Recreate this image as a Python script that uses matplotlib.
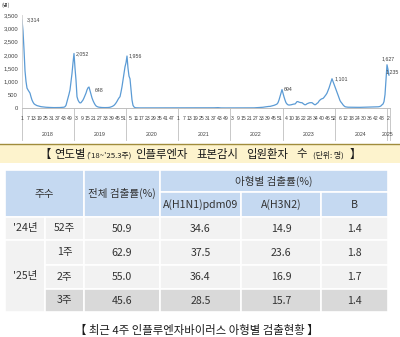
import matplotlib
matplotlib.use('Agg')
import matplotlib.pyplot as plt
from matplotlib.patches import Rectangle
import matplotlib.transforms as mtransforms

plt.rcParams['font.family'] = ['Noto Sans CJK KR', 'DejaVu Sans']

# ---------------- data ----------------
years = ['2018', '2019', '2020', '2021', '2022', '2023', '2024', '2025']
weeks_per_year = [52, 52, 52, 52, 53, 52, 52, 3]

y2018 = [3314, 2900, 2200, 1400, 1000, 750, 680, 620, 560, 420, 300, 220, 160, 130, 110, 90,
         80, 70, 60, 50, 45, 40, 35, 30, 28, 25, 22, 20, 20, 18, 18, 16, 15, 15, 15, 14,
         15, 16, 18, 20, 22, 25, 30, 50, 100, 240, 380, 520, 680, 1000, 1300, 1700]
y2019 = [2052, 1500, 1050, 425, 300, 230, 190, 200, 250, 300, 380, 470, 560, 680, 760, 790,
         648, 500, 380, 280, 200, 130, 80, 55, 40, 30, 25, 20, 18, 16, 15, 15,
         15, 16, 18, 22, 28, 40, 55, 75, 100, 140, 190, 250, 320, 380, 425, 600,
         800, 1050, 1300, 1550]
y2020 = [1700, 1956, 1500, 1200, 1100, 700, 300, 100, 40, 15, 8, 6, 5, 5, 4, 4,
         4, 3, 3, 3, 3, 3, 3, 3, 3, 3, 3, 3, 3, 3, 3, 3,
         3, 3, 3, 3, 3, 3, 3, 3, 3, 3, 3, 3, 3, 3, 3, 3,
         3, 3, 3, 3]
y2021 = [3, 3, 3, 3, 3, 3, 3, 3, 3, 3, 3, 3, 3, 3, 3, 3,
         3, 3, 3, 3, 3, 3, 3, 3, 3, 3, 3, 3, 3, 3, 3, 3,
         3, 3, 3, 5, 8, 10, 14, 16, 14, 10, 6, 4, 3, 3, 3, 3,
         3, 3, 3, 3]
y2022 = [3, 3, 3, 3, 3, 3, 3, 3, 3, 3, 3, 3, 3, 3, 3, 3,
         3, 3, 3, 3, 4, 4, 5, 5, 6, 8, 10, 12, 15, 18, 20, 22,
         25, 28, 32, 40, 45, 50, 55, 60, 60, 70, 80, 90, 100, 115, 130, 150,
         200, 300, 425, 560, 694]
y2023 = [550, 420, 300, 200, 150, 120, 110, 115, 120, 130, 140, 150, 150, 190, 240, 240,
         220, 210, 200, 200, 170, 140, 120, 130, 160, 175, 190, 200, 200, 200, 170, 140,
         120, 140, 175, 200, 260, 300, 330, 350, 360, 400, 450, 500, 560, 650, 750, 870,
         1000, 1101, 1000, 900]
y2024 = [800, 700, 600, 490, 380, 280, 220, 175, 120, 80, 50, 40, 35, 30, 30, 28,
         28, 27, 27, 26, 26, 26, 25, 25, 25, 25, 26, 26, 27, 28, 28, 30,
         30, 30, 32, 32, 33, 34, 35, 36, 38, 40, 42, 45, 50, 60, 80, 120,
         150, 240, 500, 1050]
y2025 = [1627, 1450, 1235]

yearly_values = [y2018, y2019, y2020, y2021, y2022, y2023, y2024, y2025]

# points carrying a data label: (year, week)
label_points = [('2018', 1), ('2019', 1), ('2019', 17), ('2020', 2),
                ('2022', 53), ('2023', 50), ('2025', 1), ('2025', 3)]

y_ticks = [0, 500, 1000, 1500, 2000, 2500, 3000, 3500]
y_unit = '(명)'

chart_title_parts = ['【', '연도별', "('18~'25.3주)", '인플루엔자', '표본감시', '입원환자', '수', '(단위: 명)', '】']

# table
header_week = '주수'
header_total = '전체 검출률(%)'
header_subtype = '아형별 검출률(%)'
subtypes = ['A(H1N1)pdm09', 'A(H3N2)', 'B']
row_years = ["'24년", "'25년"]
row_year_span = [1, 3]
row_weeks = ['52주', '1주', '2주', '3주']
total_rate = [50.9, 62.9, 55.0, 45.6]
h1n1_rate = [34.6, 37.5, 36.4, 28.5]
h3n2_rate = [14.9, 23.6, 16.9, 15.7]
b_rate = [1.4, 1.8, 1.7, 1.4]
table_caption = '【 최근 4주 인플루엔자바이러스 아형별 검출현황 】'

# ---------------- figure ----------------
W, H = 400, 337
fig = plt.figure(figsize=(W / 100, H / 100), dpi=100)
fig.patch.set_facecolor('white')

# overlay axes in pixel coordinates
ov = fig.add_axes([0, 0, 1, 1])
ov.set_xlim(0, W)
ov.set_ylim(H, 0)
ov.axis('off')

# ---- line chart ----
series = []
week_numbers = []
for vals, n in zip(yearly_values, weeks_per_year):
    series.extend(vals)
    week_numbers.extend(range(1, n + 1))
idx = list(range(len(series)))

x_left_px, x_right_px = 21.5, 389.5
y_top_px, y_zero_px = 15, 108
ax = fig.add_axes([x_left_px / W, (H - y_zero_px) / H,
                   (x_right_px - x_left_px) / W, (y_zero_px - y_top_px) / H])
ax.set_facecolor('none')
ax.plot(idx, series, color='#5b9bd5', lw=0.9, solid_joinstyle='round')
ax.set_xlim(-0.5, len(series) - 0.5)
ax.set_ylim(0, 3500)
ax.set_yticks(y_ticks)
ax.set_yticklabels([f'{v:,}' for v in y_ticks], fontsize=4.2,
                   family=['Liberation Sans Narrow', 'Liberation Sans'], color='#404040')
ax.tick_params(axis='y', length=0, pad=2.5)
ax.set_xticks([])
for s in ['top', 'right']:
    ax.spines[s].set_visible(False)
ax.spines['left'].set_color('#d0d0d0')
ax.spines['left'].set_linewidth(0.6)
ax.spines['bottom'].set_color('#bfbfbf')
ax.spines['bottom'].set_linewidth(0.7)

trans = mtransforms.blended_transform_factory(ax.transData, ax.transAxes)
axes_h_px = y_zero_px - y_top_px

# week labels every 6 weeks
for i in range(0, len(series), 6):
    ax.text(i, -(119 - y_zero_px) / axes_h_px, str(week_numbers[i]), transform=trans,
            ha='center', va='center', fontsize=3.7,
            family=['Liberation Sans Narrow', 'Liberation Sans'], color='#404040')

# year separators and year labels
start = 0
bounds = [-0.5]
for n in weeks_per_year:
    start += n
    bounds.append(start - 0.5)
for b in bounds:
    ax.plot([b, b], [0, -(140 - y_zero_px) / axes_h_px], transform=trans,
            color='#bfbfbf', lw=0.6, clip_on=False)
for k, yr in enumerate(years):
    c = (bounds[k] + bounds[k + 1]) / 2
    ax.text(c, -(134 - y_zero_px) / axes_h_px, yr, transform=trans, ha='center',
            va='center', fontsize=3.8,
            family=['Liberation Sans Narrow', 'Liberation Sans'], color='#404040')

# unit label
ov.text(6, 5.5, y_unit, ha='center', va='center', fontsize=3.8, color='#404040')

# data labels
label_offsets = {('2018', 1): (5, 0, 'left'), ('2019', 1): (2, 0, 'left'),
                 ('2019', 17): (5, 0, 'left'), ('2020', 2): (2, 0, 'left'),
                 ('2022', 53): (2, 0, 'left'), ('2023', 50): (3, 0, 'left'),
                 ('2025', 1): (1, 6, 'center'), ('2025', 3): (-3, 3, 'left')}
for (yr, wk) in label_points:
    yi = years.index(yr)
    i = sum(weeks_per_year[:yi]) + wk - 1
    dx, dy, ha = label_offsets[(yr, wk)]
    ax.annotate(f'{series[i]:,}', xy=(i, series[i]), xytext=(dx * 0.72, dy * 0.72),
                textcoords='offset points', ha=ha, va='center', fontsize=3.8,
                family=['Liberation Sans Narrow', 'Liberation Sans'], color='#404040',
                annotation_clip=False)

# ---- yellow caption bar ----
ov.add_patch(Rectangle((0, 145), W, 18, facecolor='#fdf3cd', edgecolor='none'))
ov.plot([0, W], [144.3, 144.3], color='#a08c3c', lw=1.0)

title_sizes = [8.2, 8.2, 5.6, 8.2, 8.2, 8.2, 8.2, 5.6, 8.2]
title_gaps = [4, 0, 4, 8, 8, 8, 6, 6]   # pixel gaps after each piece
renderer = fig.canvas.get_renderer()
title_texts = []
widths = []
for txt, fs in zip(chart_title_parts, title_sizes):
    t = ov.text(0, 154.5 if fs > 6 else 155.8, txt, ha='left', va='center', fontsize=fs,
                color='#1a1a1a', fontweight='medium')
    title_texts.append(t)
    widths.append(t.get_window_extent(renderer).width)
total_w = sum(widths) + sum(title_gaps)
xpos = 200 - total_w / 2
for k, t in enumerate(title_texts):
    t.set_x(xpos)
    xpos += widths[k] + (title_gaps[k] if k < len(title_gaps) else 0)

# ---- table ----
blue = '#c5d9f1'
light = '#f2f2f2'
dark = '#d9d9d9'
edge = 'white'
tc = '#333333'
fs_t = 7.6


def cell(x0, y0, x1, y1, color):
    ov.add_patch(Rectangle((x0, y0), x1 - x0, y1 - y0, facecolor=color,
                           edgecolor=edge, lw=1.2))


col_edges = [5, 45, 84, 160, 241, 321, 388]
hdr_top, hdr_mid, hdr_bot = 170, 192, 217
row_edges = [217, 240, 265, 289, 312]

cell(col_edges[0], hdr_top, col_edges[2], hdr_bot, blue)
ov.text((col_edges[0] + col_edges[2]) / 2, (hdr_top + hdr_bot) / 2, header_week,
        ha='center', va='center', fontsize=fs_t, color=tc)
cell(col_edges[2], hdr_top, col_edges[3], hdr_bot, blue)
ov.text((col_edges[2] + col_edges[3]) / 2, (hdr_top + hdr_bot) / 2, header_total,
        ha='center', va='center', fontsize=fs_t, color=tc)
cell(col_edges[3], hdr_top, col_edges[6], hdr_mid, blue)
ov.text((col_edges[3] + col_edges[6]) / 2, (hdr_top + hdr_mid) / 2, header_subtype,
        ha='center', va='center', fontsize=fs_t, color=tc)
for k, st in enumerate(subtypes):
    x0, x1 = col_edges[3 + k], col_edges[4 + k]
    cell(x0, hdr_mid, x1, hdr_bot, blue)
    ov.text((x0 + x1) / 2, (hdr_mid + hdr_bot) / 2, st, ha='center', va='center',
            fontsize=fs_t, color=tc)

# year cells (merged)
r = 0
for yl, span in zip(row_years, row_year_span):
    y0, y1 = row_edges[r], row_edges[r + span]
    cell(col_edges[0], y0, col_edges[1], y1, light)
    ov.text((col_edges[0] + col_edges[1]) / 2, (y0 + y1) / 2, yl, ha='center',
            va='center', fontsize=fs_t, color=tc)
    r += span

cols_vals = [row_weeks,
             [f'{v:.1f}' for v in total_rate],
             [f'{v:.1f}' for v in h1n1_rate],
             [f'{v:.1f}' for v in h3n2_rate],
             [f'{v:.1f}' for v in b_rate]]
for ri in range(len(row_weeks)):
    y0, y1 = row_edges[ri], row_edges[ri + 1]
    color = dark if ri == len(row_weeks) - 1 else light
    for ci, colv in enumerate(cols_vals):
        x0, x1 = col_edges[1 + ci], col_edges[2 + ci]
        cell(x0, y0, x1, y1, color)
        ov.text((x0 + x1) / 2, (y0 + y1) / 2, colv[ri], ha='center', va='center',
                fontsize=fs_t, color=tc)

ov.text(197, 330.5, table_caption, ha='center', va='center', fontsize=8.2, color='#1a1a1a')

fig.savefig('out.png', dpi=100, facecolor='white')
